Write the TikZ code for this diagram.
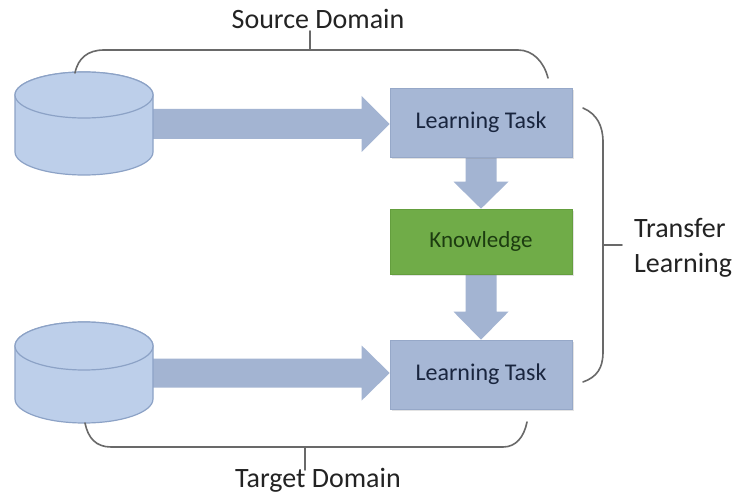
\documentclass[tikz,border=0pt]{standalone}
\usepackage{fontspec}
\setmainfont{Carlito}
\usetikzlibrary{calc,shadows}
\pgfdeclarelayer{bglayer}
\pgfdeclarelayer{arrowlayer}
\pgfsetlayers{bglayer,arrowlayer,main}
\definecolor{cylfill}{RGB}{189,207,234}
\definecolor{cylline}{RGB}{140,162,198}
\definecolor{arrowc}{RGB}{163,180,210}
\definecolor{taskc}{RGB}{166,183,213}
\definecolor{taskline}{RGB}{150,168,200}
\definecolor{tasktext}{RGB}{25,37,62}
\definecolor{knowc}{RGB}{112,172,72}
\definecolor{knowline}{RGB}{100,158,62}
\definecolor{knowtext}{RGB}{28,60,16}
\definecolor{bracec}{RGB}{105,105,105}
\definecolor{labeltext}{RGB}{35,35,35}
\tikzset{
  taskbox/.style={rectangle, fill=taskc, draw=taskline, line width=0.6pt,
    minimum width=182pt, minimum height=69pt, inner sep=0pt,
    text=tasktext, font=\fontsize{24}{28}\selectfont,
    drop shadow={shadow xshift=2pt, shadow yshift=-2pt, opacity=0.22}},
  knowbox/.style={taskbox, fill=knowc, draw=knowline, minimum height=65pt,
    text=knowtext, font=\fontsize{23}{27}\selectfont},
  cylstyle/.style={fill=cylfill, draw=cylline, line width=1.2pt},
  bracestyle/.style={draw=bracec, line width=1.6pt, line cap=round},
  outerlabel/.style={inner sep=0pt, text=labeltext, font=\fontsize{28}{34}\selectfont},
  blockarrow/.style={fill=arrowc}
}
\begin{document}
\begin{tikzpicture}[x=1pt, y=1pt]
\begin{pgfonlayer}{bglayer}
\fill[white] (0,0) rectangle (732,-495);
\end{pgfonlayer}
\useasboundingbox (0,0) rectangle (732,-495);

% nodes
\node[taskbox] (lt1) at (481,-122.5) {Learning Task};
\node[knowbox] (kn) at (481,-241.5) {Knowledge};
\node[taskbox] (lt2) at (481,-374.5) {Learning Task};

% cylinder anchor coordinates
\coordinate (d1) at (153,-124);
\coordinate (d2) at (153,-373);
\coordinate (t1) at (d1 -| lt1.west);
\coordinate (t2) at (d2 -| lt2.west);

% block arrows (under boxes and cylinders)
\begin{pgfonlayer}{arrowlayer}
\fill[blockarrow] ($(d1)+(0,15)$) -- ($(t1)+(-28,15)$) -- ($(t1)+(-28,28)$) -- (t1)
  -- ($(t1)+(-28,-28)$) -- ($(t1)+(-28,-15)$) -- ($(d1)+(0,-15)$) -- cycle;
\fill[blockarrow] ($(d2)+(0,14.5)$) -- ($(t2)+(-28,14.5)$) -- ($(t2)+(-28,27.5)$) -- (t2)
  -- ($(t2)+(-28,-27.5)$) -- ($(t2)+(-28,-14.5)$) -- ($(d2)+(0,-14.5)$) -- cycle;
\fill[blockarrow] ($(lt1.south)+(-15.5,0)$) -- ($(kn.north)+(-15.5,27)$) -- ($(kn.north)+(-27.5,27)$)
  -- (kn.north) -- ($(kn.north)+(27.5,27)$) -- ($(kn.north)+(15.5,27)$) -- ($(lt1.south)+(15.5,0)$) -- cycle;
\fill[blockarrow] ($(kn.south)+(-15.5,0)$) -- ($(lt2.north)+(-15.5,28)$) -- ($(lt2.north)+(-27.5,28)$)
  -- (lt2.north) -- ($(lt2.north)+(27.5,28)$) -- ($(lt2.north)+(15.5,28)$) -- ($(kn.south)+(15.5,0)$) -- cycle;
\end{pgfonlayer}

% cylinders
\draw[cylstyle] (15,-95) -- (15,-152) arc[start angle=180, end angle=360, x radius=69pt, y radius=23pt]
  -- (153,-95) arc[start angle=0, end angle=180, x radius=69pt, y radius=23pt] -- cycle;
\draw[cylstyle] (84,-95) ellipse[x radius=69pt, y radius=23pt];
\draw[cylstyle] (15,-346) -- (15,-399) arc[start angle=180, end angle=360, x radius=69pt, y radius=24pt]
  -- (153,-346) arc[start angle=0, end angle=180, x radius=69pt, y radius=24pt] -- cycle;
\draw[cylstyle] (84,-346) ellipse[x radius=69pt, y radius=24pt];

% braces
\draw[bracestyle] (75,-73) .. controls (78,-58) and (88,-50) .. (104,-50) -- (518,-50)
  .. controls (533,-50) and (544,-62) .. (548,-78);
\draw[bracestyle] (310,-50) -- (310,-31);
\draw[bracestyle] (85,-423) .. controls (88,-438) and (96,-447) .. (111,-447) -- (503,-447)
  .. controls (516,-447) and (524,-437) .. (527,-422);
\draw[bracestyle] (305,-447) -- (305,-470);
\draw[bracestyle] (583,-108) .. controls (597,-114) and (603,-126) .. (603,-142) -- (603,-352)
  .. controls (603,-368) and (597,-377) .. (583,-382);
\draw[bracestyle] (603,-245) -- (622,-245);

% labels
\node[outerlabel, anchor=base] (src) at (318,-29) {Source Domain};
\node[outerlabel, anchor=base] (tgt) at (318,-487) {Target Domain};
\node[outerlabel, anchor=base west] (tr1) at (634,-237) {Transfer};
\node[outerlabel, anchor=base west] (tr2) at (634,-272) {Learning};
\end{tikzpicture}
\end{document}
